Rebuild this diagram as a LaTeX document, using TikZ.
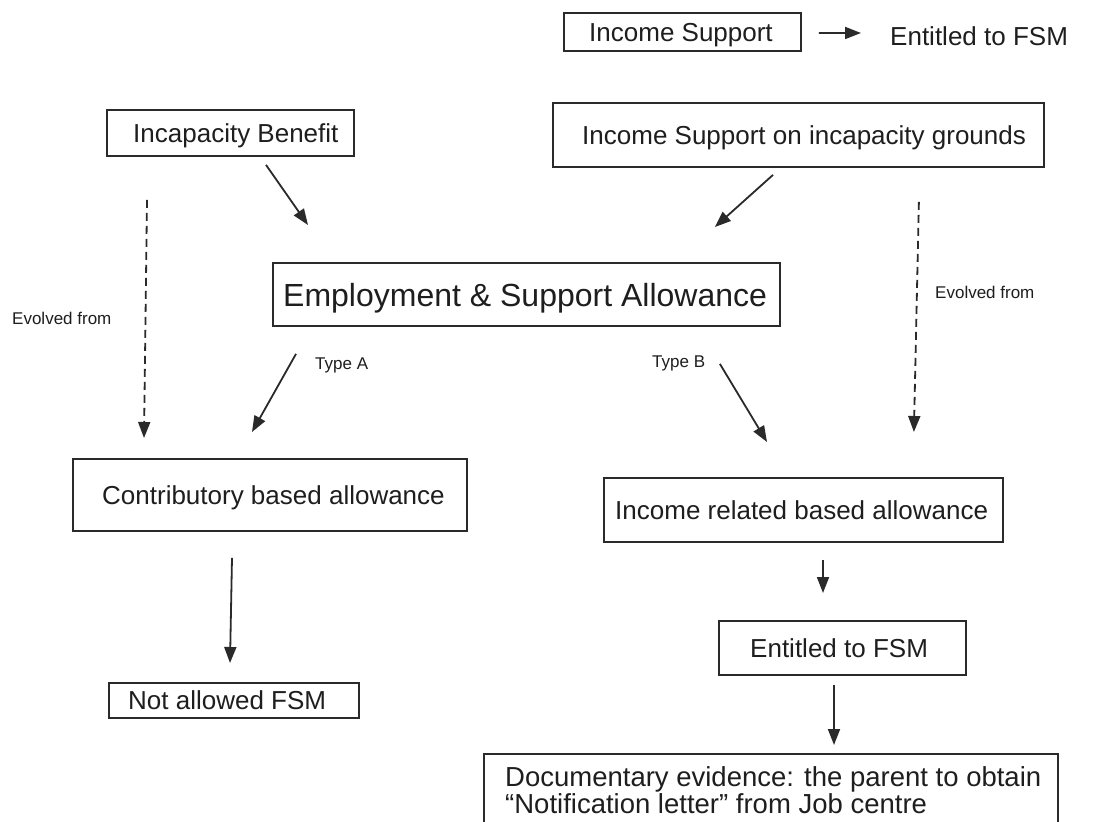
\documentclass[tikz,border=0pt]{standalone}
\usepackage{fontspec}
\setmainfont{Liberation Sans}
\usetikzlibrary{arrows.meta,calc}
\definecolor{ink}{HTML}{1E1E1E}
\definecolor{lin}{HTML}{2A2A2A}
\begin{document}
\begin{tikzpicture}[x=1pt,y=-1pt,
  box/.style={draw=lin, line width=1.9pt, inner sep=0pt, anchor=north west},
  txt/.style={text=ink, inner sep=0pt, anchor=west, font=\fontsize{26}{30}\selectfont, text height=18.7pt, text depth=0pt},
  big/.style={txt, font=\fontsize{32}{36}\selectfont, text height=23pt},
  small/.style={txt, font=\fontsize{17}{20}\selectfont, text height=12.2pt},
  arr/.style={draw=lin, line width=1.8pt, -{Triangle[length=16pt,width=12pt]}},
  darr/.style={arr, dash pattern=on 8pt off 5pt}]
\useasboundingbox (0,0) rectangle (1101,822);
\clip (0,0) rectangle (1101,822);
\fill[white] (0,0) rectangle (1101,822);

% boxes
\node[box, minimum width=237pt, minimum height=38pt] (is) at (563,12) {};
\node[box, minimum width=247pt, minimum height=46pt] (ib) at (106,109) {};
\node[box, minimum width=491pt, minimum height=64pt] (isig) at (552,102) {};
\node[box, minimum width=507pt, minimum height=63pt] (esa) at (272,262) {};
\node[box, minimum width=394pt, minimum height=72pt] (cba) at (72,458) {};
\node[box, minimum width=399pt, minimum height=64pt] (irba) at (603,477) {};
\node[box, minimum width=250pt, minimum height=35pt] (naf) at (108,682) {};
\node[box, minimum width=247pt, minimum height=54pt] (efsm) at (718,620) {};
\node[box, minimum width=574pt, minimum height=95pt] (doc) at (483,753) {};

% texts
\node[txt] (ist) at (589,32) {Income Support};
\node[txt] (isf) at (890,36) {Entitled to FSM};
\node[txt] (ibt) at (133,133) {Incapacity Benefit};
\node[txt] (isigt) at (582,135) {Income Support on incapacity grounds};
\node[big] (esat) at (283,295) {Employment \& Support Allowance};
\node[txt] (cbat) at (102,495) {Contributory based allowance};
\node[txt] (irbat) at (615,510) {Income related based allowance};
\node[txt] (naft) at (128,700) {Not allowed FSM};
\node[txt] (efsmt) at (750,648) {Entitled to FSM};
\node[text=ink, inner sep=0pt, anchor=north west, align=left, font=\fontsize{27.5}{27}\selectfont] (doct) at (505,766)
  {Documentary evidence: the parent to obtain\\``Notification letter'' from Job centre};

\node[small] (evl) at (12,318) {Evolved from};
\node[small] (evr) at (935,292) {Evolved from};
\node[small] (ta) at (315,363) {Type A};
\node[small] (tb) at (652,361) {Type B};

% connectors
\draw[arr] ($(is.east)+(17,1)$) -- ($(isf.west)+(-29,-3)$);
\draw[arr] ($(ib.south west)+(160,8)$) -- ($(esa.north west)+(36,-37)$);
\draw[arr] ($(isig.south west)+(221,7)$) -- ($(esa.north east)+(-66,-35)$);
\draw[darr] ($(ib.south west)+(41,43)$) -- ($(cba.north west)+(72,-20)$);
\draw[darr] ($(isig.south east)+(-126,34)$) -- ($(irba.north east)+(-90,-45)$);
\draw[arr] ($(esa.south west)+(24,27)$) -- ($(cba.north west)+(180,-26)$);
\draw[arr] ($(esa.south east)+(-61,37)$) -- ($(irba.north west)+(164,-35)$);
\draw[arr] ($(cba.south west)+(160,26)$) -- ($(naf.north west)+(122,-19)$);
\draw[arr] ($(irba.south west)+(220,17)$) -- ($(efsm.north west)+(105,-27)$);
\draw[arr] ($(efsm.south west)+(116,9)$) -- ($(doc.north west)+(351,-8)$);
\end{tikzpicture}
\end{document}
